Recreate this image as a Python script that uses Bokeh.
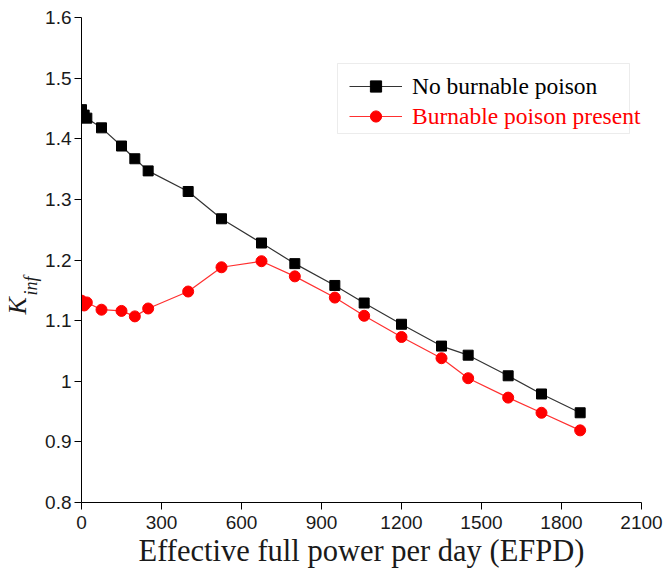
import math
from bokeh.plotting import figure
from bokeh.models import Legend, LegendItem, FixedTicker, Title, BoxAnnotation, Range1d
from bokeh.embed import file_html
from bokeh.resources import INLINE

# ---- data ----
efpd = [0, 10, 20, 75, 150, 200, 250, 400, 525, 675, 800, 950, 1060, 1200, 1350, 1450, 1600, 1725, 1870]
kinf_no_bp = [1.448, 1.439, 1.434, 1.418, 1.388, 1.367, 1.347, 1.313, 1.268, 1.228, 1.194,
              1.158, 1.129, 1.094, 1.058, 1.043, 1.009, 0.979, 0.948]
kinf_bp = [1.133, 1.125, 1.130, 1.118, 1.116, 1.107, 1.120, 1.148, 1.188, 1.198, 1.173,
           1.138, 1.108, 1.073, 1.038, 1.005, 0.973, 0.948, 0.919]

series_names = ["No burnable poison", "Burnable poison present"]
x_ticks = [0, 300, 600, 900, 1200, 1500, 1800, 2100]
y_ticks = [0.8, 0.9, 1.0, 1.1, 1.2, 1.3, 1.4, 1.5, 1.6]
y_tick_labels = ["0.8", "0.9", "1", "1.1", "1.2", "1.3", "1.4", "1.5", "1.6"]
x_title = "Effective full power per day (EFPD)"
y_title_main, y_title_sub = "K", "inf"

p = figure(width=666, height=571, output_backend="svg", toolbar_location=None,
           x_range=Range1d(0, 2100), y_range=Range1d(0.8, 1.6),
           min_border_left=81, min_border_right=25, min_border_top=17, min_border_bottom=69)
p.outline_line_color = None
p.grid.visible = False
p.background_fill_color = "white"
p.border_fill_color = "white"

for ax in (p.xaxis, p.yaxis):
    ax.axis_line_color = "black"
    ax.major_tick_line_color = "black"
    ax.major_tick_out = 7
    ax.major_tick_in = 0
    ax.minor_tick_line_color = None
    ax.major_label_text_font = "Liberation Sans"
    ax.major_label_text_font_size = "19px"
    ax.major_label_text_color = "#1a1a1a"

p.xaxis.ticker = FixedTicker(ticks=x_ticks)
p.yaxis.ticker = FixedTicker(ticks=y_ticks)
p.yaxis.major_label_overrides = {t: s for t, s in zip(y_ticks, y_tick_labels)}
p.xaxis.major_label_standoff = 6
p.yaxis.major_label_standoff = 3

p.xaxis.axis_label = x_title
p.xaxis.axis_label_text_font = "Liberation Serif"
p.xaxis.axis_label_text_font_style = "normal"
p.xaxis.axis_label_text_font_size = "30.5px"
p.xaxis.axis_label_text_color = "#1a1a1a"
p.xaxis.axis_label_standoff = 2

l1 = p.line(efpd, kinf_no_bp, line_color="#333333", line_width=1.2)
s1 = p.scatter(efpd, kinf_no_bp, marker="square", size=10, fill_color="black", line_color="black")
l2 = p.line(efpd, kinf_bp, line_color="#ff3030", line_width=1.2)
s2 = p.scatter(efpd, kinf_bp, marker="circle", size=11, fill_color="#ff0000", line_color="#ff0000")

# y title K_inf as two side titles (subscript nearer the axis)
p.add_layout(Title(text=y_title_sub, text_font="Liberation Serif", text_font_style="italic",
                   text_font_size="18px", text_color="#1a1a1a", align="left",
                   offset=207, standoff=4), "left")
p.add_layout(Title(text=y_title_main, text_font="Liberation Serif", text_font_style="italic",
                   text_font_size="26px", text_color="#1a1a1a", align="left",
                   offset=188, standoff=-31), "left")

# legend box
p.add_layout(BoxAnnotation(left=256, right=548, top=439, bottom=369,
                           left_units="screen", right_units="screen",
                           top_units="screen", bottom_units="screen",
                           fill_alpha=0, line_color="#c0c0c0", line_width=1))

def make_legend(label, rends, color, vy):
    return Legend(items=[LegendItem(label=label, renderers=rends)], location=(268, vy),
                  label_text_font="Liberation Serif", label_text_font_size="23.5px",
                  label_text_color=color, border_line_color=None, background_fill_alpha=0,
                  padding=0, margin=0, spacing=0, glyph_width=53, glyph_height=28,
                  label_height=28, label_standoff=10)

p.add_layout(make_legend(series_names[0], [l1, s1], "black", 402))
p.add_layout(make_legend(series_names[1], [l2, s2], "#ff0000", 372))

open("out.html", "w").write(file_html(p, INLINE))
